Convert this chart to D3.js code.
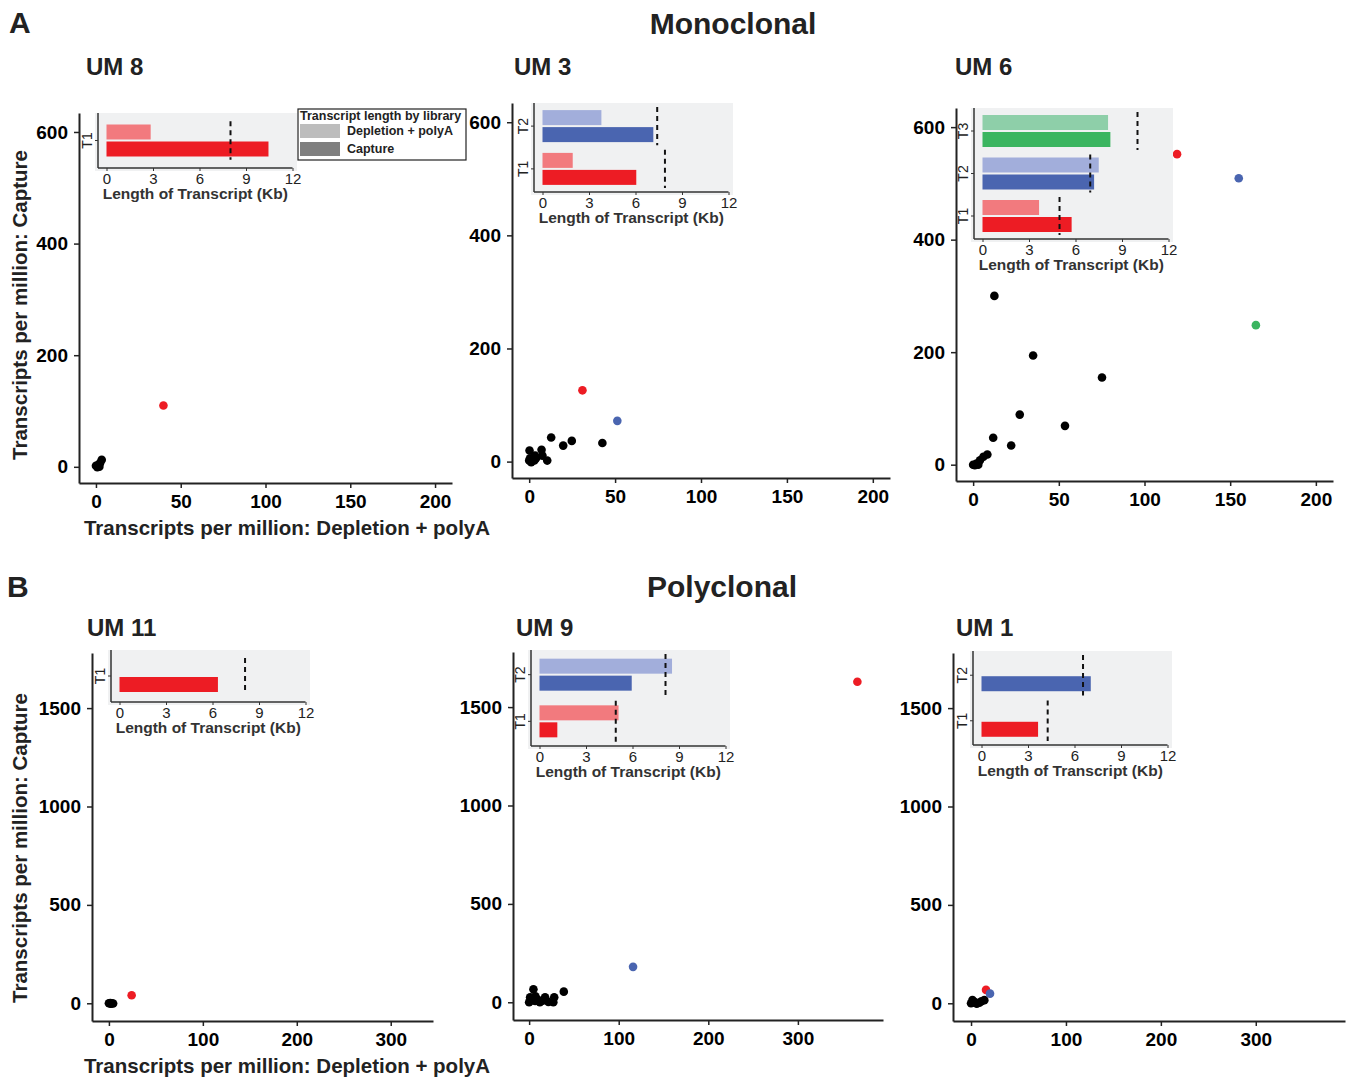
<!DOCTYPE html>
<html>
<head>
<meta charset="utf-8">
<script src="https://cdn.jsdelivr.net/npm/d3@7"></script>
<style>
body { margin: 0; background: #fff; }
text { font-family: "Liberation Sans", Arial, sans-serif; }
</style>
</head>
<body>
<div id="plot"></div>
<script>
// ---- data ----
var panelNames = ["UM 8", "UM 3", "UM 6", "UM 11", "UM 9", "UM 1"];
var rowTitles = ["Monoclonal", "Polyclonal"];
var rowLetters = ["A", "B"];

var topTicksX = [0, 50, 100, 150, 200];
var topTicksY = [0, 200, 400, 600];
var bottomTicksX = [0, 100, 200, 300];
var bottomTicksY = [0, 500, 1000, 1500];
var insetTicks = [0, 3, 6, 9, 12];

// TPM depletion+polyA (x) vs capture (y); t = transcript highlighted
var um8Points = [
    {x: 0, y: 1.8, t: ""}, {x: 1.4, y: 3.6, t: ""}, {x: 2.4, y: 6.6, t: ""},
    {x: 0.8, y: -0.5, t: ""}, {x: 2, y: 0, t: ""}, {x: 3.4, y: 12.5, t: ""},
    {x: 39.8, y: 110, t: "T1"}
];
var um3Points = [
    {x: 12.8, y: 42.5, t: ""}, {x: 24.8, y: 36.6, t: ""}, {x: 19.8, y: 28.3, t: ""},
    {x: 42.6, y: 33, t: ""}, {x: 7.2, y: 21, t: ""}, {x: 0.2, y: 19.5, t: ""},
    {x: 10.5, y: 1.8, t: ""}, {x: 7.7, y: 10.6, t: ""}, {x: 3.4, y: 10.6, t: ""},
    {x: 0, y: 1.8, t: ""}, {x: 1.2, y: -1, t: ""}, {x: 4, y: 6, t: ""},
    {x: 0.5, y: 6, t: ""}, {x: 3, y: 2, t: ""},
    {x: 31, y: 126, t: "T1"}, {x: 51.3, y: 72, t: "T2"}
];
var um6Points = [
    {x: 12.4, y: 300, t: ""}, {x: 35, y: 194, t: ""}, {x: 75.2, y: 155, t: ""},
    {x: 27.2, y: 89, t: ""}, {x: 53.6, y: 69, t: ""}, {x: 11.7, y: 48, t: ""},
    {x: 22.2, y: 34, t: ""}, {x: 0, y: 0, t: ""}, {x: 2, y: 2, t: ""},
    {x: 4, y: 8, t: ""}, {x: 6, y: 14, t: ""}, {x: 8.3, y: 18, t: ""},
    {x: 3, y: 0, t: ""}, {x: 1, y: -1, t: ""},
    {x: 119, y: 552, t: "T1"}, {x: 155, y: 509, t: "T2"}, {x: 165, y: 248, t: "T3"}
];
var um11Points = [
    {x: 0, y: 0, t: ""}, {x: 1.5, y: 1, t: ""}, {x: 3, y: 0, t: ""},
    {x: 4.5, y: -1, t: ""}, {x: 2, y: -2, t: ""},
    {x: 24.2, y: 41, t: "T1"}
];
var um9Points = [
    {x: 38.7, y: 54, t: ""}, {x: 4.8, y: 66, t: ""}, {x: 1.1, y: 25, t: ""},
    {x: 0, y: 0, t: ""}, {x: 6.7, y: 7, t: ""}, {x: 12, y: 0, t: ""},
    {x: 17.8, y: 25, t: ""}, {x: 21.5, y: 1.5, t: ""}, {x: 27, y: 0, t: ""},
    {x: 28, y: 25, t: ""}, {x: 7, y: 30, t: ""}, {x: 15, y: 8, t: ""},
    {x: 3, y: 10, t: ""}, {x: 9, y: 15, t: ""},
    {x: 366.4, y: 1629, t: "T1"}, {x: 116, y: 180, t: "T2"}
];
var um1Points = [
    {x: 0, y: 0, t: ""}, {x: 3.5, y: 8, t: ""}, {x: 8.8, y: 3, t: ""},
    {x: 14, y: 16, t: ""}, {x: 1.5, y: 16, t: ""}, {x: 6, y: -2, t: ""},
    {x: 11, y: 10, t: ""}, {x: 2, y: 4, t: ""},
    {x: 15.8, y: 68, t: "T1"}, {x: 20, y: 49, t: "T2"}
];

// transcript length (Kb) per library, dashed = annotated length
var um8Lengths = [{t: "T1", depletion: 2.85, capture: 10.45, ref: 8.0}];
var um3Lengths = [
    {t: "T1", depletion: 1.95, capture: 6.05, ref: 7.9},
    {t: "T2", depletion: 3.8, capture: 7.15, ref: 7.4}
];
var um6Lengths = [
    {t: "T1", depletion: 3.65, capture: 5.75, ref: 4.97},
    {t: "T2", depletion: 7.5, capture: 7.2, ref: 6.95},
    {t: "T3", depletion: 8.1, capture: 8.25, ref: 10.0}
];
var um11Lengths = [{t: "T1", depletion: null, capture: 6.35, ref: 8.1}];
var um9Lengths = [
    {t: "T1", depletion: 5.1, capture: 1.15, ref: 4.92},
    {t: "T2", depletion: 8.55, capture: 5.95, ref: 8.13}
];
var um1Lengths = [
    {t: "T1", depletion: null, capture: 3.65, ref: 4.27},
    {t: "T2", depletion: null, capture: 7.05, ref: 6.55}
];

var legendLabels = ["Depletion + polyA", "Capture"];

// ---- styles ----
var darkCol = {T1: "#ED1C24", T2: "#4A65B0", T3: "#3BB560", "": "#000"};
var lightCol = {T1: "#F27A7E", T2: "#A2AEDB", T3: "#8ECFA9"};
var axisCol = "#222";

var width = 1350, height = 1077;

var svg = d3.select("#plot").append("svg")
    .attr("width", width)
    .attr("height", height);

// page headers
svg.selectAll(".letter").data(rowLetters).enter().append("text")
    .attr("x", function (d, i) { return i ? 7 : 9; })
    .attr("y", function (d, i) { return i ? 597 : 33; })
    .style("font-size", "30px").style("font-weight", "bold")
    .style("fill", "#222")
    .text(function (d) { return d; });

svg.selectAll(".rowtitle").data(rowTitles).enter().append("text")
    .attr("x", function (d, i) { return i ? 722 : 733; })
    .attr("y", function (d, i) { return i ? 597 : 34; })
    .attr("text-anchor", "middle")
    .style("font-size", "30px").style("font-weight", "bold")
    .style("fill", "#222")
    .text(function (d) { return d; });

var panels = [
    {name: panelNames[0], pts: um8Points, lens: um8Lengths, xr: [79, 452], yr: [483, 113],
        xd: [-10, 210], yd: [-29, 634], xt: topTicksX, yt: topTicksY, title: [86, 75],
        inset: {left: 98, top: 113, bottom: 168}},
    {name: panelNames[1], pts: um3Points, lens: um3Lengths, xr: [512, 890], yr: [478, 103],
        xd: [-10, 210], yd: [-29, 634], xt: topTicksX, yt: topTicksY, title: [514, 75],
        inset: {left: 534, top: 103, bottom: 192}},
    {name: panelNames[2], pts: um6Points, lens: um6Lengths, xr: [956, 1333], yr: [481, 108],
        xd: [-10, 210], yd: [-29, 634], xt: topTicksX, yt: topTicksY, title: [955, 75],
        inset: {left: 974, top: 108, bottom: 239}},
    {name: panelNames[3], pts: um11Points, lens: um11Lengths, xr: [92, 433], yr: [1021, 653],
        xd: [-18, 345], yd: [-90, 1780], xt: bottomTicksX, yt: bottomTicksY, title: [87, 636],
        inset: {left: 111, top: 650, bottom: 702}},
    {name: panelNames[4], pts: um9Points, lens: um9Lengths, xr: [513, 883], yr: [1020, 652],
        xd: [-18, 395], yd: [-90, 1780], xt: bottomTicksX, yt: bottomTicksY, title: [516, 636],
        inset: {left: 531, top: 650, bottom: 746}},
    {name: panelNames[5], pts: um1Points, lens: um1Lengths, xr: [953, 1345], yr: [1021, 653],
        xd: [-19, 394], yd: [-90, 1780], xt: bottomTicksX, yt: bottomTicksY, title: [956, 636],
        inset: {left: 973, top: 651, bottom: 745}}
];

panels.forEach(drawPanel);

function drawPanel(p) {
    var g = svg.append("g");
    var xScale = d3.scaleLinear().domain(p.xd).range(p.xr);
    var yScale = d3.scaleLinear().domain(p.yd).range(p.yr);

    g.append("text")
        .attr("x", p.title[0]).attr("y", p.title[1])
        .style("font-size", "24px").style("font-weight", "bold").style("fill", "#222")
        .text(p.name);

    var xAxis = d3.axisBottom(xScale).tickValues(p.xt).tickFormat(d3.format("d"))
        .tickSize(5).tickPadding(7).tickSizeOuter(0);
    var yAxis = d3.axisLeft(yScale).tickValues(p.yt).tickFormat(d3.format("d"))
        .tickSize(5).tickPadding(6).tickSizeOuter(0);

    var gx = g.append("g").attr("transform", "translate(0," + p.yr[0] + ")").call(xAxis);
    var gy = g.append("g").attr("transform", "translate(" + p.xr[0] + ",0)").call(yAxis);
    [gx, gy].forEach(function (a) {
        a.select(".domain").attr("stroke", axisCol).attr("stroke-width", 2);
        a.selectAll(".tick line").attr("stroke", axisCol).attr("stroke-width", 1.5);
        a.selectAll(".tick text")
            .style("font-size", "19px").style("font-weight", "bold")
            .style("font-family", "'Liberation Sans', Arial, sans-serif")
            .attr("fill", "#000");
    });

    // points: background ones first, highlighted transcripts on top
    g.append("g").selectAll("circle")
        .data(p.pts.filter(function (d) { return d.t === ""; })
            .concat(p.pts.filter(function (d) { return d.t !== ""; })))
        .enter().append("circle")
        .attr("cx", function (d) { return xScale(d.x); })
        .attr("cy", function (d) { return yScale(d.y); })
        .attr("r", 4.3)
        .attr("fill", function (d) { return darkCol[d.t]; });

    drawInset(g, p.inset, p.lens);
}

function drawInset(g, ins, lens) {
    var gi = g.append("g");
    var xi = d3.scaleLinear().domain([0, 12]).range([ins.left + 8.5, ins.left + 194.5]);
    var cats = lens.map(function (d) { return d.t; }).reverse();
    var yi = d3.scaleBand().domain(cats).range([ins.top + 6, ins.bottom - 6]).paddingInner(0.2);

    gi.append("rect")
        .attr("x", ins.left - 3).attr("y", ins.top)
        .attr("width", 202).attr("height", ins.bottom - ins.top + 3)
        .attr("fill", "#F0F1F2");

    var barH = 15;
    lens.forEach(function (d) {
        var c = yi(d.t) + yi.bandwidth() / 2;
        if (d.depletion != null) {
            gi.append("rect")
                .attr("x", xi(0)).attr("y", c - barH - 1)
                .attr("width", xi(d.depletion) - xi(0)).attr("height", barH)
                .attr("fill", lightCol[d.t]);
        }
        if (d.capture != null) {
            gi.append("rect")
                .attr("x", xi(0)).attr("y", c + 1)
                .attr("width", xi(d.capture) - xi(0)).attr("height", barH)
                .attr("fill", darkCol[d.t]);
        }
        gi.append("line")
            .attr("x1", xi(d.ref)).attr("x2", xi(d.ref))
            .attr("y1", yi(d.t) - 2).attr("y2", yi(d.t) + yi.bandwidth() + 2)
            .attr("stroke", "#111").attr("stroke-width", 2)
            .attr("stroke-dasharray", "5,4");
    });

    var xa = d3.axisBottom(xi).tickValues(insetTicks).tickSize(3).tickPadding(2).tickSizeOuter(0);
    var ax = gi.append("g").attr("transform", "translate(0," + ins.bottom + ")").call(xa);
    ax.select(".domain").attr("d", "M" + ins.left + ",0H" + xi(12));
    var ya = d3.axisLeft(yi).tickSize(3).tickPadding(2).tickSizeOuter(0);
    var ay = gi.append("g").attr("transform", "translate(" + ins.left + ",0)").call(ya);
    ay.select(".domain").attr("d", "M0," + ins.top + "V" + ins.bottom);
    [ax, ay].forEach(function (a) {
        a.select(".domain").attr("stroke", "#333").attr("stroke-width", 1.5);
        a.selectAll(".tick line").attr("stroke", "#333");
        a.selectAll(".tick text")
            .style("font-size", "15px")
            .style("font-family", "'Liberation Sans', Arial, sans-serif")
            .attr("fill", "#222");
    });
    ay.selectAll(".tick text")
        .attr("transform", "rotate(-90)")
        .attr("x", 0).attr("dx", 0)
        .attr("y", -6).attr("dy", 0)
        .attr("text-anchor", "middle")
        .style("font-size", "14px");

    gi.append("text")
        .attr("x", (ins.left + xi(12)) / 2)
        .attr("y", ins.bottom + 31)
        .attr("text-anchor", "middle")
        .style("font-size", "15.5px").style("font-weight", "bold").style("fill", "#333")
        .text("Length of Transcript (Kb)");
}

// y axis titles (left column only)
[305, 848].forEach(function (cy) {
    svg.append("text")
        .attr("transform", "translate(27," + cy + ") rotate(-90)")
        .attr("text-anchor", "middle")
        .style("font-size", "20.5px").style("font-weight", "bold").style("fill", "#222")
        .text("Transcripts per million: Capture");
});
// x axis titles
[535, 1073].forEach(function (by) {
    svg.append("text")
        .attr("x", 287).attr("y", by)
        .attr("text-anchor", "middle")
        .style("font-size", "20.5px").style("font-weight", "bold").style("fill", "#222")
        .text("Transcripts per million: Depletion + polyA");
});

// legend (UM 8 panel)
var leg = svg.append("g").attr("transform", "translate(298,109)");
leg.append("rect").attr("width", 168).attr("height", 51)
    .attr("fill", "#fff").attr("stroke", "#222").attr("stroke-width", 1.2);
leg.append("text").attr("x", 2).attr("y", 11)
    .style("font-size", "12.5px").style("font-weight", "bold").style("fill", "#222")
    .text("Transcript length by library");
var keyCol = ["#BDBDBD", "#7F7F7F"];
leg.selectAll(".key").data(legendLabels).enter().append("rect")
    .attr("x", 2).attr("y", function (d, i) { return 15 + i * 18; })
    .attr("width", 40).attr("height", 14)
    .attr("fill", function (d, i) { return keyCol[i]; });
leg.selectAll(".klab").data(legendLabels).enter().append("text")
    .attr("x", 49).attr("y", function (d, i) { return 26 + i * 18; })
    .style("font-size", "12.5px").style("font-weight", "bold").style("fill", "#222")
    .text(function (d) { return d; });
</script>
</body>
</html>
